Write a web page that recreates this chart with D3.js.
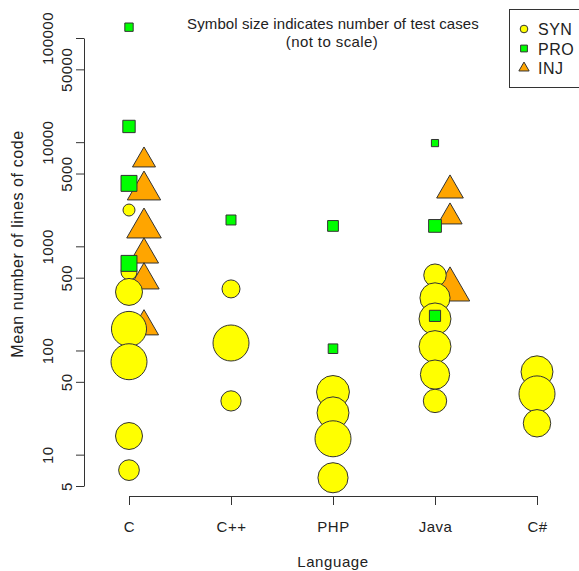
<!DOCTYPE html>
<html><head><meta charset="utf-8">
<script src="https://cdn.jsdelivr.net/npm/d3@7"></script>
<style>
html,body{margin:0;padding:0;background:#fff;}
svg{display:block;font-family:"Liberation Sans",Arial,sans-serif;}
</style></head>
<body><svg id="chart" width="579" height="571"></svg>
<script>
// ---- data ----
const languages = ["C", "C++", "PHP", "Java", "C#"];
const yTicks = [5, 10, 50, 100, 500, 1000, 5000, 10000, 50000, 100000];
const seriesNames = ["SYN", "PRO", "INJ"];

// SYN (circles)
const synLang  = ["C","C","C","C","C","C","C", "C++","C++","C++", "PHP","PHP","PHP","PHP", "Java","Java","Java","Java","Java","Java", "C#","C#","C#"];
const synLines = [2230, 568, 365, 161, 78, 15.1, 7.1, 390, 118, 32.8, 40, 25.2, 14.2, 6.0, 528, 320, 201, 109, 58.7, 32.8, 62.4, 38.3, 20.0];
const synCases = [1.33, 1.78, 3.0, 3.9, 4.0, 3.0, 2.3, 2.0, 4.0, 2.25, 3.65, 3.55, 4.0, 3.35, 2.5, 3.35, 3.55, 3.55, 3.25, 2.6, 3.55, 4.0, 3.05];

// PRO (squares)
const proLang  = ["C","C","C","C", "C++", "PHP","PHP", "Java","Java","Java"];
const proLines = [127000, 14150, 4020, 686, 1790, 1570, 104, 9800, 1570, 215];
const proCases = [1.05, 1.55, 2.0, 2.0, 1.25, 1.35, 1.2, 0.9, 1.6, 1.4];

// INJ (triangles)
const injLang  = ["C","C","C","C","C","C", "Java","Java","Java"];
const injLines = [6700, 3450, 1500, 832, 473, 170, 3450, 1915, 384];
const injCases = [1.9, 2.75, 2.85, 2.4, 2.5, 2.4, 2.2, 2.0, 3.25];

// ---- drawing ----
const svg = d3.select("#chart");
const x = d3.scalePoint().domain(languages).range([129, 537]);
const y = d3.scaleLog().domain([5, 100000]).range([486, 38]);
const size = d3.scaleLinear().domain([0, 1]).range([0, 4.5]);
const injShift = 15;

const fills = {SYN: "#ffff00", PRO: "#00ff00", INJ: "#ffa500"};
const stroke = "#333";
const txt = "#222";

function symbolPath(type, R) {
  if (type === "SYN") {
    return `M${R},0A${R},${R} 0 1,1 ${-R},0A${R},${R} 0 1,1 ${R},0Z`;
  } else if (type === "PRO") {
    const s = 0.886 * R;
    return `M${-s},${-s}H${s}V${s}H${-s}Z`;
  } else {
    const r = 1.555 * R, yc = 0.778 * R, h = 1.347 * R;
    return `M0,${-r}L${h},${yc}L${-h},${yc}Z`;
  }
}

// y axis
const yAxis = svg.append("g").attr("transform", "translate(84,0)")
  .call(d3.axisLeft(y).tickValues(yTicks).tickSize(8).tickSizeOuter(0).tickFormat(d3.format("d")));
yAxis.select(".domain").attr("stroke", "#333");
yAxis.selectAll(".tick line").attr("stroke", "#333");
yAxis.selectAll(".tick text")
  .attr("x", null).attr("dy", null)
  .attr("fill", txt)
  .attr("font-size", 15)
  .attr("letter-spacing", 0.5)
  .attr("text-anchor", "middle")
  .attr("transform", d => {
    const lead = String(d)[0] === "1";
    return `translate(${lead ? -31 : -12},0) rotate(-90)`;
  });

// x axis
const xAxis = svg.append("g").attr("transform", "translate(0,496)")
  .call(d3.axisBottom(x).tickSize(9).tickSizeOuter(0));
xAxis.select(".domain").attr("stroke", "#333");
xAxis.selectAll(".tick line").attr("stroke", "#333");
xAxis.selectAll(".tick text").attr("fill", txt).attr("font-size", 15)
  .attr("letter-spacing", 0.5)
  .attr("y", 36).attr("dy", null);

// axis titles
svg.append("text").attr("x", 333).attr("y", 567).attr("text-anchor", "middle")
  .attr("font-size", 15).attr("letter-spacing", 0.6).attr("fill", txt).text("Language");
svg.append("text").attr("transform", "translate(23,244) rotate(-90)").attr("text-anchor", "middle")
  .attr("font-size", 16).attr("letter-spacing", 0.6).attr("fill", txt).text("Mean number of lines of code");

// title
svg.append("text").attr("x", 333).attr("y", 29).attr("text-anchor", "middle")
  .attr("font-size", 15).attr("letter-spacing", 0.1).attr("fill", txt).text("Symbol size indicates number of test cases");
svg.append("text").attr("x", 332).attr("y", 47).attr("text-anchor", "middle")
  .attr("font-size", 15).attr("letter-spacing", 0.4).attr("fill", txt).text("(not to scale)");

// points: INJ, then SYN, then PRO
const inj = injLang.map((l, i) => ({type: "INJ", lang: l, v: injLines[i], c: injCases[i]}));
const syn = synLang.map((l, i) => ({type: "SYN", lang: l, v: synLines[i], c: synCases[i]}));
const pro = proLang.map((l, i) => ({type: "PRO", lang: l, v: proLines[i], c: proCases[i]}));
const pts = svg.append("g");
[inj, syn, pro].forEach(arr => {
  pts.selectAll(null).data(arr).enter().append("path")
    .attr("transform", d => `translate(${x(d.lang) + (d.type === "INJ" ? injShift : 0)},${y(d.v)})`)
    .attr("d", d => symbolPath(d.type, size(d.c)))
    .attr("fill", d => fills[d.type])
    .attr("stroke", stroke).attr("stroke-width", 1);
});

// legend
const lg = svg.append("g");
lg.append("rect").attr("x", 509.5).attr("y", 9.5).attr("width", 80).attr("height", 78)
  .attr("fill", "#fff").attr("stroke", "#333");
seriesNames.forEach((s, i) => {
  const cy = 29 + i * 19.5;
  lg.append("path").attr("transform", `translate(524,${cy})`)
    .attr("d", symbolPath(s, size(0.85)))
    .attr("fill", fills[s]).attr("stroke", stroke);
  lg.append("text").attr("x", 538).attr("y", cy + 6).attr("font-size", 16)
    .attr("letter-spacing", 0.5).attr("fill", txt).text(s);
});
</script></body></html>
